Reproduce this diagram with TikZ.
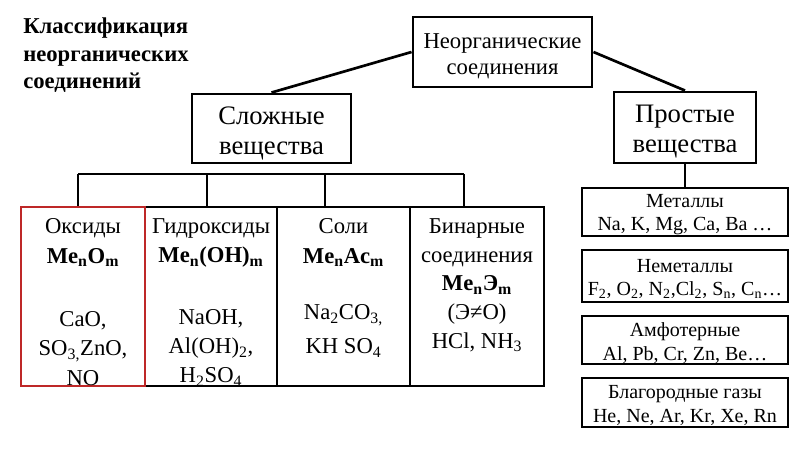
\documentclass[tikz,border=0pt]{standalone}
\usepackage{fontspec}
\setmainfont{Liberation Serif}
\usetikzlibrary{positioning}
\definecolor{oxred}{RGB}{190,40,40}
\tikzset{
  box/.style={draw, line width=2.2pt, inner sep=0pt},
  conn/.style={line width=2pt},
  txt/.style={align=center, inner sep=0pt},
  cell/.style={box, minimum width=#1, minimum height=134.25pt},
  celltext/.style={txt, anchor=north, font=\fontsize{17}{22}\selectfont},
  kind/.style={box, minimum width=154.5pt, minimum height=#1},
  kindtext/.style={txt, font=\fontsize{15}{17.5}\selectfont}
}

\begin{document}
\begin{tikzpicture}[x=0.75pt, y=-0.75pt]
\useasboundingbox (0,0) rectangle (800,449);
\node[anchor=north west, align=left, inner sep=0pt, font=\fontsize{17}{20.5}\bfseries] (title) at (23,18)
  {Классификация\\неорганических\\соединений};

\node[box, minimum width=134.25pt, minimum height=52.5pt] (root) at (502.5,52) {};
\node[txt, font=\fontsize{17}{19.5}\selectfont] (roott) at ([yshift=-3.2pt]root.center)
  {Неорганические\\соединения};
\node[box, minimum width=119.25pt, minimum height=51.75pt] (slozh) at (271.5,128.5) {};
\node[txt, font=\fontsize{20}{23}\selectfont] (slozht) at ([yshift=-3.8pt]slozh.center)
  {Сложные\\вещества};
\node[box, minimum width=106.5pt, minimum height=53.25pt] (prost) at (685,127.5) {};
\node[txt, font=\fontsize{20}{22.5}\selectfont] (prostt) at ([yshift=-3.3pt]prost.center)
  {Простые\\вещества};
\draw[conn] (root.west) -- (slozh.north);
\draw[conn] (root.east) -- (prost.north);

\coordinate (busl) at (78,174);
\coordinate (busr) at (464,174);
\node[cell=99pt] (hyd) at (211,296.5) {};
\node[cell=99.75pt] (salt) at (343.5,296.5) {};
\node[cell=100.5pt] (bin) at (477,296.5) {};
\node[cell=93pt, draw=oxred] (ox) at (83,296.5) {};
\draw[conn] (busl) -- (busr);
\foreach \c/\x in {ox/78,hyd/207,salt/325,bin/464}
  \draw[conn] (\x,174) -- (\c.north -| \x,174);

\node[celltext] (oxt) at ([yshift=-9.75pt]ox.north)
  {Оксиды\\\textbf{Me\textsubscript{n}O\textsubscript{m}}\\[25.5pt]
   CaO,\\SO\textsubscript{3,}ZnO,\\NO};
\node[celltext] (hydt) at ([yshift=-9.75pt]hyd.north)
  {Гидроксиды\\\textbf{Me\textsubscript{n}(OH)\textsubscript{m}}\\[24pt]
   NaOH,\\Al(OH)\textsubscript{2},\\H\textsubscript{2}SO\textsubscript{4}};
\node[celltext] (saltt) at ([yshift=-9.75pt]salt.north)
  {Соли\\\textbf{Me\textsubscript{n}Ac\textsubscript{m}}\\[20.5pt]
   Na\textsubscript{2}CO\textsubscript{3,}\\[3.5pt]KH SO\textsubscript{4}};
\node[celltext, font=\fontsize{17}{21.5}\selectfont] (bint) at ([yshift=-9.75pt]bin.north)
  {Бинарные\\соединения\\\textbf{Me\textsubscript{n}Э\textsubscript{m}}\\(Э≠O)\\HCl, NH\textsubscript{3}};

\foreach \n/\y/\h in {met/212/36pt, nemet/276/39pt, amf/340/36pt, blag/402.5/36.75pt}
  \node[kind=\h] (\n) at (685,\y) {};
\node[kindtext] (mett) at ([yshift=-2.2pt]met.center) {Металлы\\Na, K, Mg, Ca, Ba …};
\node[kindtext] (nemett) at ([yshift=-2.2pt]nemet.center)
  {Неметаллы\\F\textsubscript{2}, O\textsubscript{2}, N\textsubscript{2},Cl\textsubscript{2}, S\textsubscript{n}, C\textsubscript{n}…};
\node[kindtext] (amft) at ([yshift=-2.2pt]amf.center) {Амфотерные\\Al, Pb, Cr, Zn, Be…};
\node[kindtext] (blagt) at ([yshift=-2.2pt]blag.center) {Благородные газы\\He, Ne, Ar, Kr, Xe, Rn};
\draw[conn] (prost.south) -- (met.north);
\end{tikzpicture}
\end{document}
